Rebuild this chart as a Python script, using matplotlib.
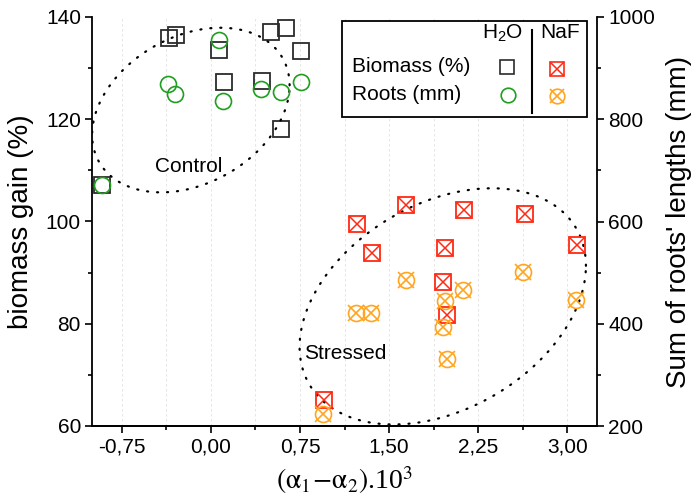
import numpy as np
import matplotlib
matplotlib.use("Agg")
import matplotlib.pyplot as plt
from matplotlib.patches import Rectangle
from matplotlib.lines import Line2D
from matplotlib.ticker import FuncFormatter, MultipleLocator

plt.rcParams['font.family'] = ['Liberation Sans', 'DejaVu Sans']
plt.rcParams['mathtext.fontset'] = 'stix'

# control plants (H2O)
h2o_bio_x = [-0.92, -0.35, -0.29, 0.07, 0.11, 0.43, 0.51, 0.63, 0.76, 0.59]
h2o_bio_y = [107.1, 135.8, 136.5, 133.5, 127.2, 127.5, 137.1, 137.9, 133.4, 118.0]
h2o_root_x = [-0.92, -0.36, -0.30, 0.07, 0.10, 0.42, 0.59, 0.76]
h2o_root_y = [671, 869, 850, 955, 836, 860, 853, 873]

# stressed plants (NaF)
naf_bio_x = [1.23, 1.36, 1.64, 1.97, 1.95, 1.99, 2.13, 2.64, 3.08, 0.95]
naf_bio_y = [99.6, 93.9, 103.3, 94.8, 88.2, 81.8, 102.3, 101.5, 95.4, 65.0]
naf_root_x = [1.64, 1.22, 1.35, 1.97, 2.12, 1.95, 1.99, 2.63, 3.07, 0.94]
naf_root_y = [486, 422, 422, 444, 466, 393, 332, 501, 447, 223]

# group outlines: centre x, centre y, half width (x), half height (y), phase (deg)
control_ell = (-0.168, 121.8, 0.831, 16.1, 72.5)
stressed_ell = (1.952, 83.4, 1.205, 23.1, 69.9)

x_ticks = [-0.75, 0.0, 0.75, 1.5, 2.25, 3.0]

BLACK = '#2b2b2b'
GREEN = '#1f9e1f'
RED = '#ff2a14'
ORANGE = '#ffa51f'

fig = plt.figure(figsize=(6.96, 5.04), dpi=100)
ax = fig.add_axes([92 / 696, 1 - 426 / 504, 505 / 696, 409 / 504])
ax2 = ax.twinx()

ax.set_xlim(-1.0, 3.25)
ax.set_ylim(60, 140)
ax2.set_ylim(200, 1000)

ax.set_xticks(x_ticks)
ax.xaxis.set_minor_locator(MultipleLocator(0.375))
ax.xaxis.set_major_formatter(FuncFormatter(lambda v, p: f'{v:.2f}'.replace('.', ',')))
ax.yaxis.set_major_locator(MultipleLocator(20))
ax.yaxis.set_minor_locator(MultipleLocator(10))
ax2.yaxis.set_major_locator(MultipleLocator(200))
ax2.yaxis.set_minor_locator(MultipleLocator(100))

for a in (ax, ax2):
    a.spines['top'].set_visible(False)
    for s in a.spines.values():
        s.set_linewidth(1.3)
    a.tick_params(which='major', direction='out', length=5, width=1.2, labelsize=15, pad=3)
    a.tick_params(which='minor', direction='out', length=3, width=1.2)
ax.spines['right'].set_visible(False)
ax2.spines['left'].set_visible(False)

ax.grid(axis='x', which='both', ls=(0, (3, 3)), color='#e0e0e0', lw=0.6)
ax.set_axisbelow(True)

ms = 11
ax.plot(h2o_bio_x, h2o_bio_y, ls='none', marker='s', ms=ms, mfc='none', mec=BLACK, mew=1.3)
ax2.plot(h2o_root_x, h2o_root_y, ls='none', marker='o', ms=ms + 0.5, mfc='none', mec=GREEN, mew=1.2)
ax2.plot(naf_root_x, naf_root_y, ls='none', marker='o', ms=ms + 0.5, mfc='none', mec=ORANGE, mew=1.2)
ax2.plot(naf_root_x, naf_root_y, ls='none', marker='x', ms=ms + 0.5, mec=ORANGE, mew=1.2)
ax.plot(naf_bio_x, naf_bio_y, ls='none', marker='s', ms=ms, mfc='none', mec=RED, mew=1.3, zorder=5)
ax.plot(naf_bio_x, naf_bio_y, ls='none', marker='x', ms=ms, mec=RED, mew=1.1, zorder=5)

t = np.linspace(0, 2 * np.pi, 400)
for cx, cy, a_, b_, ph in (control_ell, stressed_ell):
    ax.plot(cx + a_ * np.cos(t), cy + b_ * np.cos(t - np.radians(ph)),
            color='black', lw=1.6, ls=(0, (0.5, 4)), dash_capstyle='round')

ax.text(-0.185, 110.8, 'Control', fontsize=15, ha='center', va='center')
ax.text(1.134, 74.1, 'Stressed', fontsize=15, ha='center', va='center')

ax.set_xlabel(r'$(\mathrm{\alpha}_1\!-\!\mathrm{\alpha}_2)$.10$^3$', fontsize=20,
              family='Liberation Serif', labelpad=6)
ax.set_ylabel('biomass gain (%)', fontsize=20)
ax.yaxis.set_label_coords(-0.115, 0.5)
ax2.set_ylabel("Sum of roots' lengths (mm)", fontsize=20)
ax2.yaxis.set_label_coords(1.137, 0.5)

# hand-made legend box
tr = ax.transAxes
ax.add_patch(Rectangle((0.496, 0.756), 0.484, 0.235, transform=tr, fc='white',
                       ec='black', lw=1.3, zorder=10, clip_on=False))
ax.add_line(Line2D([0.871, 0.871], [0.765, 0.968], transform=tr, color='black', lw=1.5, zorder=11))
ax.text(0.814, 0.961, r'$\mathregular{H_2O}$', transform=tr, fontsize=15, ha='center', va='center', zorder=11)
ax.text(0.927, 0.961, 'NaF', transform=tr, fontsize=15, ha='center', va='center', zorder=11)
ax.text(0.515, 0.878, 'Biomass (%)', transform=tr, fontsize=15, ha='left', va='center', zorder=11)
ax.text(0.515, 0.810, 'Roots (mm)', transform=tr, fontsize=15, ha='left', va='center', zorder=11)
lm = 9.5
ax.plot([0.822], [0.878], transform=tr, marker='s', ms=lm, mfc='none', mec=BLACK, mew=1.2, zorder=11)
ax.plot([0.824], [0.810], transform=tr, marker='o', ms=lm + 1, mfc='none', mec=GREEN, mew=1.2, zorder=11)
ax.plot([0.920], [0.874], transform=tr, marker='s', ms=lm, mfc='none', mec=RED, mew=1.2, zorder=11)
ax.plot([0.920], [0.874], transform=tr, marker='x', ms=lm, mec=RED, mew=1.1, zorder=11)
ax.plot([0.921], [0.808], transform=tr, marker='o', ms=lm + 1, mfc='none', mec=ORANGE, mew=1.2, zorder=11)
ax.plot([0.921], [0.808], transform=tr, marker='x', ms=lm + 1, mec=ORANGE, mew=1.2, zorder=11)

fig.savefig('out.png', dpi=100)
